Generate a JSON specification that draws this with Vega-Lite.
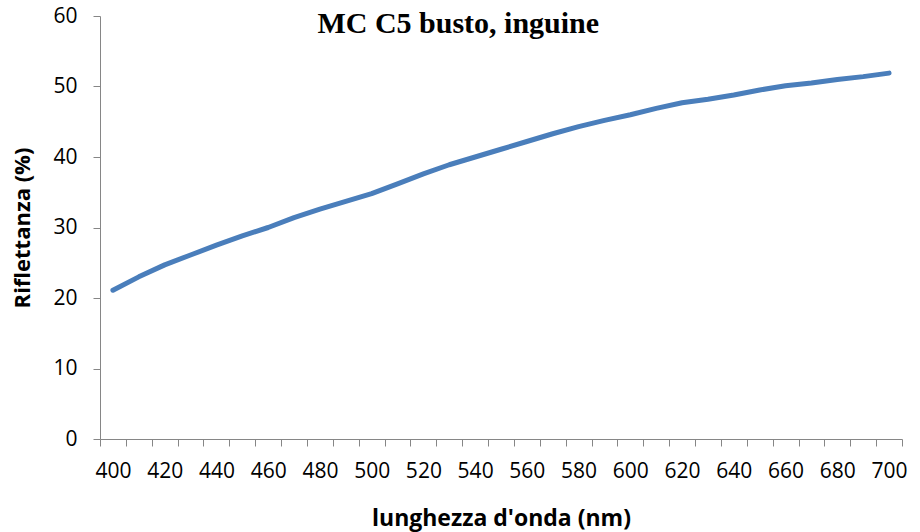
{
  "$schema": "https://vega.github.io/schema/vega-lite/v6.json",
  "width": 802,
  "height": 423,
  "autosize": {"type": "none"},
  "padding": {"left": 100, "top": 16, "right": 18, "bottom": 93},
  "background": "white",
  "encoding": {
    "x": {
      "field": "nm",
      "type": "ordinal",
      "scale": {"type": "band", "paddingInner": 0, "paddingOuter": 0, "domain": [400,410,420,430,440,450,460,470,480,490,500,510,520,530,540,550,560,570,580,590,600,610,620,630,640,650,660,670,680,690,700]},
      "axis": {
        "title": "lunghezza d'onda (nm)",
        "titleFont": "Open Sans",
        "titleFontSize": 23,
        "titleFontWeight": "bold",
        "titleColor": "black",
        "titlePadding": 26,
        "labelExpr": "datum.value % 20 == 0 ? datum.label : ''",
        "labelOverlap": false,
        "labelAngle": 0,
        "labelFont": "Open Sans",
        "labelFontSize": 21,
        "labelColor": "black",
        "labelPadding": 14,
        "grid": false,
        "domainColor": "#868686",
        "domainWidth": 1,
        "tickColor": "#868686",
        "tickWidth": 1,
        "tickSize": 7,
        "tickBand": "extent"
      }
    },
    "y": {
      "field": "r",
      "type": "quantitative",
      "scale": {"domain": [0, 60], "nice": false},
      "axis": {
        "title": "Riflettanza (%)",
        "titleFont": "Open Sans",
        "titleFontSize": 22,
        "titleFontWeight": "bold",
        "titleColor": "black",
        "titlePadding": 18,
        "values": [0, 10, 20, 30, 40, 50, 60],
        "labelFont": "Open Sans",
        "labelFontSize": 21,
        "labelColor": "black",
        "labelPadding": 16,
        "grid": false,
        "domainColor": "#868686",
        "domainWidth": 1,
        "tickColor": "#868686",
        "tickWidth": 1,
        "tickSize": 7
      }
    }
  },
  "layer": [
    {
      "data": {
        "values": [
          {"nm": 400, "r": 21.1}, {"nm": 410, "r": 23.0}, {"nm": 420, "r": 24.7},
          {"nm": 430, "r": 26.1}, {"nm": 440, "r": 27.5}, {"nm": 450, "r": 28.8},
          {"nm": 460, "r": 30.0}, {"nm": 470, "r": 31.4}, {"nm": 480, "r": 32.6},
          {"nm": 490, "r": 33.7}, {"nm": 500, "r": 34.8}, {"nm": 510, "r": 36.2},
          {"nm": 520, "r": 37.6}, {"nm": 530, "r": 38.9}, {"nm": 540, "r": 40.0},
          {"nm": 550, "r": 41.1}, {"nm": 560, "r": 42.2}, {"nm": 570, "r": 43.3},
          {"nm": 580, "r": 44.3}, {"nm": 590, "r": 45.2}, {"nm": 600, "r": 46.0},
          {"nm": 610, "r": 46.9}, {"nm": 620, "r": 47.7}, {"nm": 630, "r": 48.2},
          {"nm": 640, "r": 48.8}, {"nm": 650, "r": 49.5}, {"nm": 660, "r": 50.1},
          {"nm": 670, "r": 50.5}, {"nm": 680, "r": 51.0}, {"nm": 690, "r": 51.4},
          {"nm": 700, "r": 51.9}
        ]
      },
      "mark": {"type": "line", "color": "#4A7EBB", "strokeWidth": 5, "strokeCap": "round", "strokeJoin": "round"}
    },
    {
      "data": {"values": [{"label": "MC C5 busto, inguine", "nm": 530, "r": 57.6}]},
      "mark": {
        "type": "text",
        "font": "Liberation Serif",
        "fontSize": 30,
        "fontWeight": "bold",
        "color": "black",
        "align": "center",
        "baseline": "alphabetic",
        "dx": 9
      },
      "encoding": {
        "text": {"field": "label", "type": "nominal"}
      }
    }
  ],
  "config": {"view": {"stroke": null}}
}
